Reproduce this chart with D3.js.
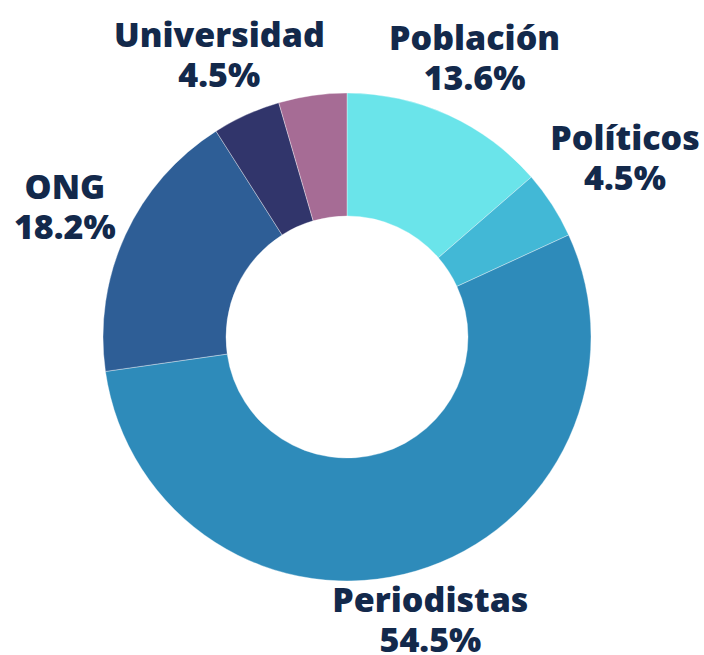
<!DOCTYPE html>
<html>
<head>
<meta charset="utf-8">
<script src="https://cdn.jsdelivr.net/npm/d3@7"></script>
<style>
  body { margin: 0; background: #fff; }
  .lbl { font-family: "Open Sans", sans-serif; font-weight: 800; font-size: 34px; fill: #13294b; }
</style>
</head>
<body>
<div id="chart"></div>
<script>
// Data (clockwise from 12 o'clock)
const categories = ["Población", "Políticos", "Periodistas", "ONG", "Universidad", "Otros"];
const values = [13.6, 4.5, 54.5, 18.2, 4.5, 4.5];
const showLabel = [true, true, true, true, true, false];
const colours = ["#6ae4ea", "#42b8d6", "#2e8bba", "#2e5e96", "#31356b", "#a66c95"];

// Dimensions
let w = 704, h = 655, cx = 347, cy = 337, outer = 244, inner = 121, gap = 251;
let fs = 34, lineGap = 40, cap = 0.714 * fs;

let svg = d3.select("#chart").append("svg").attr("width", w).attr("height", h);
let g = svg.append("g").attr("transform", "translate(" + cx + "," + cy + ")");

let data = categories.map((c, i) => ({ name: c, value: values[i], colour: colours[i], show: showLabel[i] }));
let pie = d3.pie().value(d => d.value).sort(null);
let arc = d3.arc().innerRadius(inner).outerRadius(outer);
let arcs = pie(data);

// Draw slices
g.selectAll("path.slice").data(arcs).enter()
  .append("path").attr("class", "slice")
  .attr("d", arc).attr("fill", d => d.data.colour)
  .attr("stroke", "#fff").attr("stroke-width", 0.6).attr("stroke-opacity", 0.6);

// Draw labels, pushed out along mid angle until the text box clears the ring
arcs.filter(d => d.data.show).forEach(d => {
  let t = g.append("text").attr("class", "lbl").attr("text-anchor", "middle");
  t.append("tspan").attr("x", 0).attr("y", 0).text(d.data.name);
  t.append("tspan").attr("x", 0).attr("y", lineGap).text(d.data.value.toFixed(1) + "%");
  let bw = t.node().getBBox().width, bh = cap + lineGap; // ink box: cap top to last baseline
  let a = (d.startAngle + d.endAngle) / 2;
  let ux = Math.sin(a), uy = -Math.cos(a);
  let nearest = (r) => {
    let x0 = r * ux - bw / 2, x1 = r * ux + bw / 2;
    let y0 = r * uy - bh / 2, y1 = r * uy + bh / 2;
    let px = Math.max(x0, Math.min(0, x1)), py = Math.max(y0, Math.min(0, y1));
    return Math.sqrt(px * px + py * py);
  };
  let lo = 0, hi = 600;
  for (let k = 0; k < 40; k++) { let m = (lo + hi) / 2; if (nearest(m) < gap) lo = m; else hi = m; }
  let px = lo * ux, py = lo * uy;
  t.attr("transform", "translate(" + px + "," + (py - bh / 2 + cap) + ")");
});
</script>
</body>
</html>
